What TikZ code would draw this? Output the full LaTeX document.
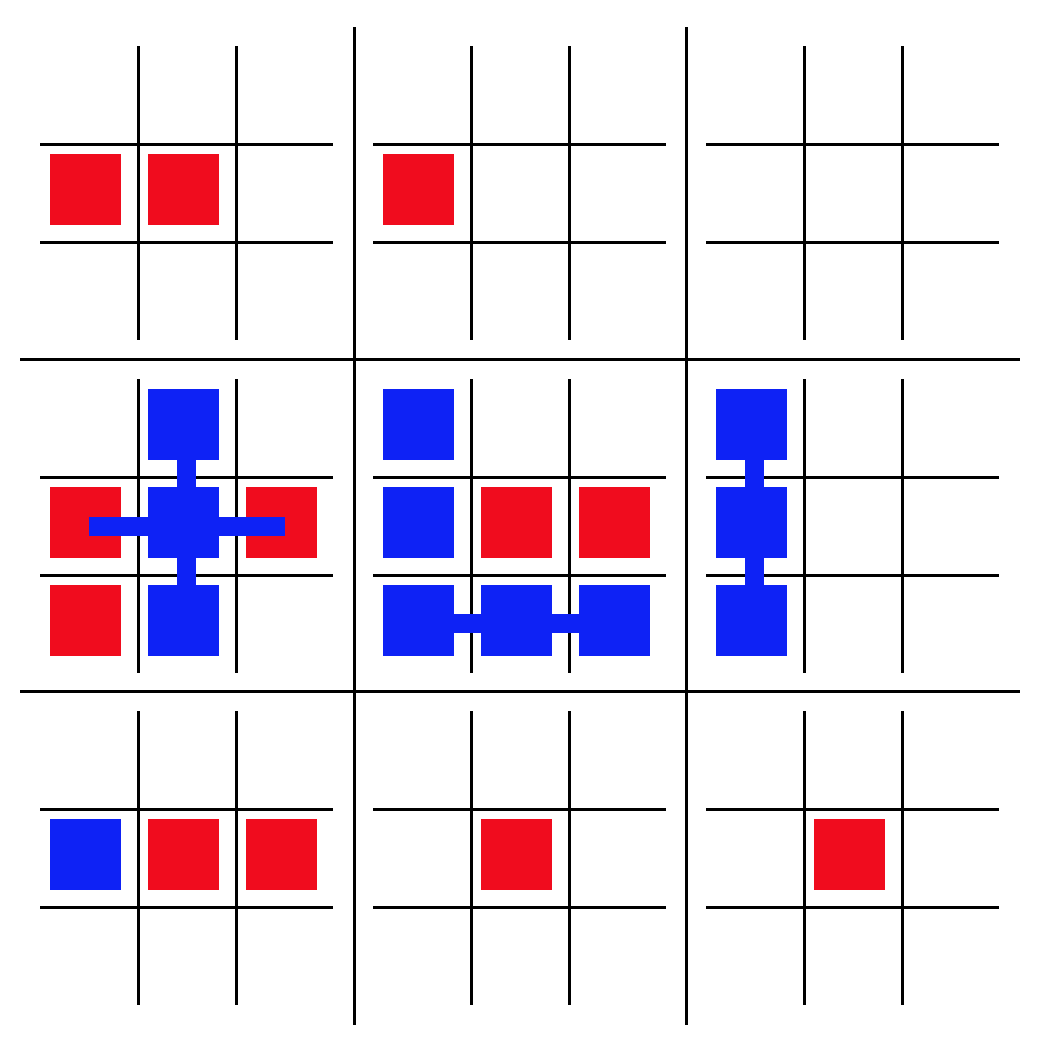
\documentclass[tikz,border=0pt]{standalone}
\usetikzlibrary{positioning}

\definecolor{tttred}{RGB}{240,12,30}
\definecolor{tttblue}{RGB}{14,34,245}

\begin{document}
\begin{tikzpicture}[
    x=0.02cm, y=-0.02cm,
    grid line/.style={draw=black, line width=3*0.02cm},
    big line/.style={draw=black, line width=3*0.02cm},
    cell/.style={rectangle, draw=none, inner sep=0pt, minimum size=71*0.02cm},
    redcell/.style={cell, fill=tttred},
    bluecell/.style={cell, fill=tttblue},
    link/.style={draw=tttblue, line width=19*0.02cm}
]
\useasboundingbox (0,0) rectangle (1050,1046);

% ====================
% Griglia grande
% ====================
\draw[big line] (354,27) -- (354,1025);
\draw[big line] (686,27) -- (686,1025);
\draw[big line] (20,359) -- (1020,359);
\draw[big line] (20,691) -- (1020,691);

% ====================
% Griglie piccole
% ====================
\foreach \bx in {0,333,666} {
  \foreach \by in {0,333,665} {
    \draw[grid line] (\bx+138,\by+46) -- (\bx+138,\by+340);
    \draw[grid line] (\bx+236,\by+46) -- (\bx+236,\by+340);
    \draw[grid line] (\bx+40,\by+144) -- (\bx+333,\by+144);
    \draw[grid line] (\bx+40,\by+242) -- (\bx+333,\by+242);
  }
}

% ====================
% Caselle
% ====================
% Riga 1
\node[redcell] (A1) at (85.5,189) {};
\node[redcell] (A2) at (183.5,189) {};
\node[redcell] (B1) at (418.5,189) {};

% Riga 2, tavola sinistra
\node[bluecell] (D_top) at (183.5,424) {};
\node[bluecell] (D_mid) at (183.5,522) {};
\node[bluecell] (D_bot) at (183.5,620) {};
\node[redcell] (D_left) at (85.5,522) {};
\node[redcell] (D_right) at (281.5,522) {};
\node[redcell] (D_corner) at (85.5,620) {};

% Riga 2, tavola centrale
\node[bluecell] (E_top) at (418.5,424) {};
\node[bluecell] (E_mid) at (418.5,522) {};
\node[bluecell] (E_bl) at (418.5,620) {};
\node[bluecell] (E_bm) at (516.5,620) {};
\node[bluecell] (E_br) at (614.5,620) {};
\node[redcell] (E_r1) at (516.5,522) {};
\node[redcell] (E_r2) at (614.5,522) {};

% Riga 2, tavola destra
\node[bluecell] (F_top) at (751.5,424) {};
\node[bluecell] (F_mid) at (751.5,522) {};
\node[bluecell] (F_bot) at (751.5,620) {};

% Riga 3
\node[bluecell] (G1) at (85.5,854) {};
\node[redcell] (G2) at (183.5,854) {};
\node[redcell] (G3) at (281.5,854) {};
\node[redcell] (H2) at (516.5,854) {};
\node[redcell] (I2) at (849.5,854) {};

% ====================
% Collegamenti blu
% ====================
\draw[link] ([shift={(3,0)}]D_top.center) -- ([shift={(3,0)}]D_bot.center);
\draw[link] ([shift={(3,4)}]D_left.center) -- ([shift={(3,4)}]D_right.center);
\draw[link] ([shift={(0,3)}]E_bl.center) -- ([shift={(0,3)}]E_br.center);
\draw[link] ([shift={(3,0)}]F_top.center) -- ([shift={(3,0)}]F_bot.center);

\end{tikzpicture}
\end{document}
